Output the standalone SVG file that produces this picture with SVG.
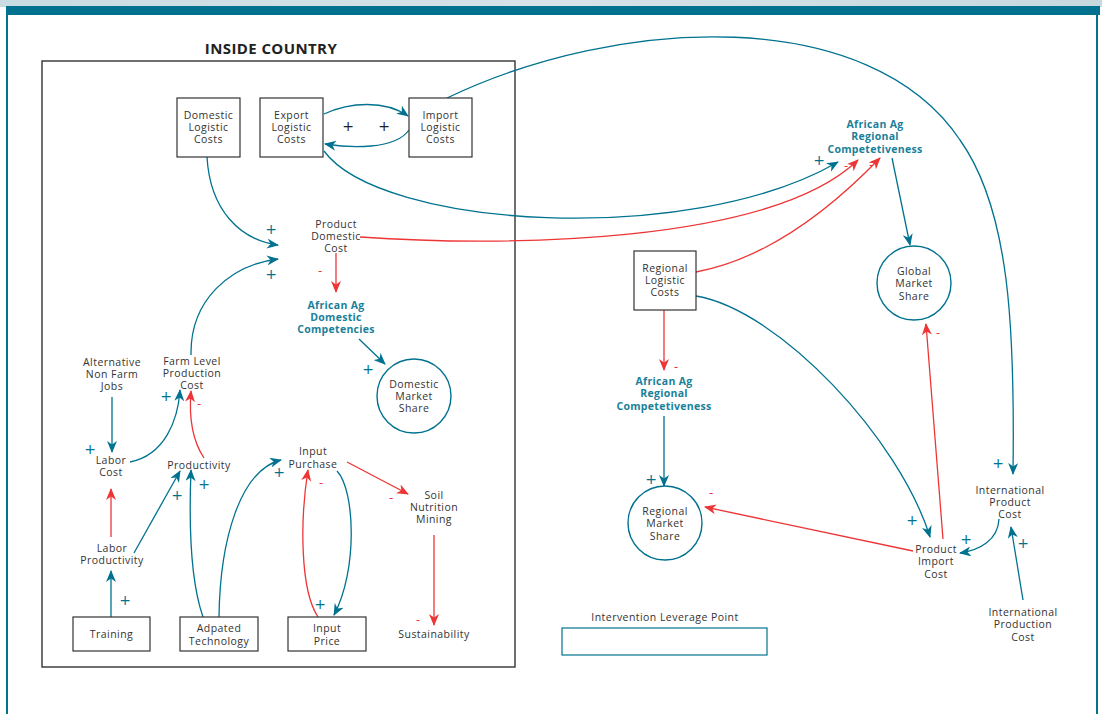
<svg xmlns="http://www.w3.org/2000/svg" width="1102" height="714" viewBox="0 0 1102 714">
<defs>
<linearGradient id="topg" x1="0" y1="0" x2="1" y2="0">
<stop offset="0" stop-color="#c9dce2"/><stop offset="0.5" stop-color="#d6e3e8"/><stop offset="1" stop-color="#c6d9df"/>
</linearGradient>
<marker id="at" viewBox="0 0 12 10" refX="11" refY="5" markerWidth="12" markerHeight="10" markerUnits="userSpaceOnUse" orient="auto">
<path d="M0,0 L12,5 L0,10 L3.5,5 z" fill="#00728f"/>
</marker>
<marker id="ar" viewBox="0 0 12 10" refX="11" refY="5" markerWidth="12" markerHeight="10" markerUnits="userSpaceOnUse" orient="auto">
<path d="M0,0 L12,5 L0,10 L3.5,5 z" fill="#ee3535"/>
</marker>
<style>
text{font-family:"Open Sans","Noto Sans","DejaVu Sans",sans-serif;}
.t{font-size:10.5px;fill:#333;text-anchor:middle;letter-spacing:0.45px;}
.tb{font-size:10.5px;fill:#1a7f99;font-weight:bold;text-anchor:middle;letter-spacing:0.3px;}
.box{fill:#fff;stroke:#333;stroke-width:1.2;}
.circ{fill:#fff;stroke:#00728f;stroke-width:1.4;}
.ct{fill:none;stroke:#00728f;stroke-width:1.3;marker-end:url(#at);}
.cr{fill:none;stroke:#ee3535;stroke-width:1.3;marker-end:url(#ar);}
.p{font-family:"DejaVu Sans",sans-serif;font-size:14px;fill:#00728f;text-anchor:middle;}
.pk{font-family:"DejaVu Sans",sans-serif;font-size:14px;fill:#222;text-anchor:middle;}
.m{font-size:13px;fill:#ee3535;text-anchor:middle;}
</style>
</defs>
<rect x="0" y="0" width="1102" height="714" fill="#fff"/>
<rect x="0" y="0" width="1102" height="7" fill="url(#topg)"/>
<rect x="6" y="6" width="1094" height="9" fill="#00728f"/>
<line x1="7" y1="14" x2="7" y2="714" stroke="#00728f" stroke-width="2"/>
<line x1="1097" y1="14" x2="1097" y2="714" stroke="#00728f" stroke-width="2"/>

<g id="inside-country">
<rect x="42" y="61" width="473" height="606" fill="none" stroke="#333" stroke-width="1.4"/>
<text x="271" y="54" style="font-size:15px;font-weight:bold;fill:#222;text-anchor:middle;letter-spacing:0.4px;">INSIDE COUNTRY</text>
</g>

<g id="connectors">
<path class="ct" d="M324,114 C350,102 385,100 408,116"/>
<path class="ct" d="M409,130 C395,150 350,148 325,144"/>
<path class="ct" d="M324,151 C380,228 690,248 838,162"/>
<path class="ct" d="M447,98 C620,15 870,5 960,140 C1010,210 1015,330 1013,474"/>
<path class="ct" d="M207,157 C210,210 240,240 278,245"/>
<path class="ct" d="M191,355 C190,300 230,265 278,259"/>
<path class="cr" d="M360,237 C500,247 770,245 858,160"/>
<path class="cr" d="M336,253 L336,292"/>
<path class="ct" d="M359,339 L385,364"/>
<path class="ct" d="M112,397 L112,452"/>
<path class="ct" d="M130,462 C165,455 178,420 180,390"/>
<path class="cr" d="M204,458 C192,440 189,415 191,391"/>
<path class="ct" d="M134,553 L180,471"/>
<path class="ct" d="M203,617 C190,580 189,520 191,470"/>
<path class="cr" d="M111,537 L111,489"/>
<path class="ct" d="M111,617 L111,571"/>
<path class="ct" d="M219,617 C220,540 240,470 281,460"/>
<path class="cr" d="M318,617 C300,590 300,520 308,470"/>
<path class="ct" d="M337,471 C355,490 358,570 334,615"/>
<path class="cr" d="M347,462 L408,494"/>
<path class="cr" d="M434,535 L434,625"/>
<path class="ct" d="M892,158 L910,245"/>
<path class="cr" d="M696,272 C760,260 820,220 880,158"/>
<path class="cr" d="M664,310 L664,370"/>
<path class="ct" d="M664,416 L664,486"/>
<path class="ct" d="M696,296 C780,310 900,440 930,537"/>
<path class="cr" d="M913,551 L705,507"/>
<path class="cr" d="M943,539 L926,324"/>
<path class="ct" d="M999,519 C998,540 980,550 960,553"/>
<path class="ct" d="M1023,600 L1011,527"/>
</g>

<g id="signs">
<text class="pk" x="348" y="131">+</text>
<text class="pk" x="384" y="131">+</text>
<text class="p" x="271" y="234">+</text>
<text class="p" x="271" y="279">+</text>
<text class="m" x="320" y="275">-</text>
<text class="p" x="368" y="374">+</text>
<text class="p" x="90" y="454">+</text>
<text class="p" x="166" y="401">+</text>
<text class="m" x="199" y="408">-</text>
<text class="p" x="177" y="500">+</text>
<text class="p" x="204" y="489">+</text>
<text class="p" x="125" y="605">+</text>
<text class="p" x="279" y="477">+</text>
<text class="m" x="321" y="487">-</text>
<text class="p" x="320" y="609">+</text>
<text class="m" x="391" y="502">-</text>
<text class="m" x="418" y="624">-</text>
<text class="p" x="819" y="165">+</text>
<text class="m" x="846" y="170">-</text>
<text class="m" x="871" y="169">-</text>
<text class="m" x="676" y="371">-</text>
<text class="p" x="651" y="484">+</text>
<text class="p" x="912" y="525">+</text>
<text class="m" x="711" y="497">-</text>
<text class="m" x="938" y="337">-</text>
<text class="p" x="966" y="544">+</text>
<text class="p" x="1023" y="548">+</text>
<text class="p" x="998" y="468">+</text>
</g>

<g id="domestic-logistic-costs">
<rect class="box" x="177" y="98" width="63" height="59"/>
<text class="t" x="208.5" y="119">Domestic</text>
<text class="t" x="208.5" y="131">Logistic</text>
<text class="t" x="208.5" y="143">Costs</text>
</g>
<g id="export-logistic-costs">
<rect class="box" x="260" y="98" width="63" height="59"/>
<text class="t" x="291.5" y="119">Export</text>
<text class="t" x="291.5" y="131">Logistic</text>
<text class="t" x="291.5" y="143">Costs</text>
</g>
<g id="import-logistic-costs">
<rect class="box" x="409" y="98" width="63" height="59"/>
<text class="t" x="440.5" y="119">Import</text>
<text class="t" x="440.5" y="131">Logistic</text>
<text class="t" x="440.5" y="143">Costs</text>
</g>
<g id="product-domestic-cost">
<text class="t" x="336" y="228">Product</text>
<text class="t" x="336" y="240">Domestic</text>
<text class="t" x="336" y="252">Cost</text>
</g>
<g id="african-ag-domestic-competencies">
<text class="tb" x="336" y="309">African Ag</text>
<text class="tb" x="336" y="321">Domestic</text>
<text class="tb" x="336" y="333">Competencies</text>
</g>
<g id="domestic-market-share">
<circle class="circ" cx="414" cy="396" r="37"/>
<text class="t" x="414" y="388">Domestic</text>
<text class="t" x="414" y="400">Market</text>
<text class="t" x="414" y="412">Share</text>
</g>
<g id="alternative-non-farm-jobs">
<text class="t" x="112" y="366">Alternative</text>
<text class="t" x="112" y="378">Non Farm</text>
<text class="t" x="112" y="390">Jobs</text>
</g>
<g id="farm-level-production-cost">
<text class="t" x="192" y="365">Farm Level</text>
<text class="t" x="192" y="377">Production</text>
<text class="t" x="192" y="389">Cost</text>
</g>
<g id="labor-cost">
<text class="t" x="111" y="464">Labor</text>
<text class="t" x="111" y="476">Cost</text>
</g>
<g id="productivity">
<text class="t" x="199" y="469">Productivity</text>
</g>
<g id="labor-productivity">
<text class="t" x="112" y="552">Labor</text>
<text class="t" x="112" y="564">Productivity</text>
</g>
<g id="training">
<rect class="box" x="73" y="617" width="77" height="34"/>
<text class="t" x="111.5" y="638">Training</text>
</g>
<g id="adapted-technology">
<rect class="box" x="180" y="617" width="78" height="34"/>
<text class="t" x="219" y="632">Adpated</text>
<text class="t" x="219" y="645">Technology</text>
</g>
<g id="input-price">
<rect class="box" x="288" y="617" width="78" height="34"/>
<text class="t" x="327" y="632">Input</text>
<text class="t" x="327" y="645">Price</text>
</g>
<g id="input-purchase">
<text class="t" x="313" y="455">Input</text>
<text class="t" x="313" y="468">Purchase</text>
</g>
<g id="soil-nutrition-mining">
<text class="t" x="434" y="499">Soil</text>
<text class="t" x="434" y="511">Nutrition</text>
<text class="t" x="434" y="523">Mining</text>
</g>
<g id="sustainability">
<text class="t" x="434" y="638">Sustainability</text>
</g>
<g id="african-ag-regional-competetiveness-top">
<text class="tb" x="875" y="128">African Ag</text>
<text class="tb" x="875" y="140">Regional</text>
<text class="tb" x="875" y="153">Competetiveness</text>
</g>
<g id="global-market-share">
<circle class="circ" cx="914" cy="283" r="37"/>
<text class="t" x="914" y="275">Global</text>
<text class="t" x="914" y="287">Market</text>
<text class="t" x="914" y="300">Share</text>
</g>
<g id="regional-logistic-costs">
<rect class="box" x="634" y="251" width="62" height="59"/>
<text class="t" x="665" y="272">Regional</text>
<text class="t" x="665" y="284">Logistic</text>
<text class="t" x="665" y="296">Costs</text>
</g>
<g id="african-ag-regional-competetiveness-lower">
<text class="tb" x="664" y="385">African Ag</text>
<text class="tb" x="664" y="397">Regional</text>
<text class="tb" x="664" y="410">Competetiveness</text>
</g>
<g id="regional-market-share">
<circle class="circ" cx="665" cy="523" r="37"/>
<text class="t" x="665" y="515">Regional</text>
<text class="t" x="665" y="527">Market</text>
<text class="t" x="665" y="540">Share</text>
</g>
<g id="product-import-cost">
<text class="t" x="936" y="553">Product</text>
<text class="t" x="936" y="565">Import</text>
<text class="t" x="936" y="578">Cost</text>
</g>
<g id="international-product-cost">
<text class="t" x="1010" y="494">International</text>
<text class="t" x="1010" y="506">Product</text>
<text class="t" x="1010" y="518">Cost</text>
</g>
<g id="international-production-cost">
<text class="t" x="1023" y="616">International</text>
<text class="t" x="1023" y="628">Production</text>
<text class="t" x="1023" y="641">Cost</text>
</g>
<g id="intervention-leverage-point">
<text class="t" x="665" y="621">Intervention Leverage Point</text>
<rect x="562" y="628" width="205" height="27" fill="#fff" stroke="#00728f" stroke-width="1.2"/>
</g>
</svg>
